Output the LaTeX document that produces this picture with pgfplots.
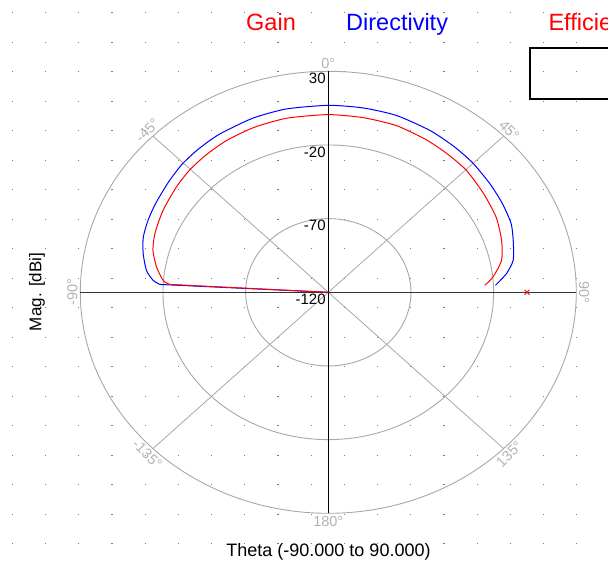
\documentclass[border=0pt]{standalone}
\usepackage{pgfplots}
\pgfplotsset{compat=1.18}
\usepackage{pgfplotstable}
\usepackage{fontspec}
\setmainfont{Liberation Sans}
\definecolor{gridgray}{RGB}{168,168,168}
\definecolor{lblgray}{RGB}{178,178,178}
\definecolor{dotgray}{RGB}{125,125,125}
\definecolor{gainred}{RGB}{255,0,0}
\definecolor{dirblue}{RGB}{0,0,255}
\pgfplotsset{table/polarxy/.style={
  x expr={(\thisrow{mag}+120)*sin(\thisrow{theta})},
  y expr={(\thisrow{mag}+120)*cos(\thisrow{theta})}}}

% theta [deg], magnitude [dBi]
\pgfplotstableread{
theta mag
-86.8 -23.9
-85.4 -19.8
-80.6 -14.7
-75.0 -10.2
-69.2 -7.8
-60.9 -5.6
-52.1 -3.6
-45.3 -2.0
-38.4 -1.0
-30.8 0.0
-21.9 0.6
-12.0 0.8
0.0 0.6
10.1 0.4
20.0 0.4
29.9 -0.7
37.9 -1.7
45.3 -2.4
54.4 -4.6
63.3 -6.4
71.4 -9.4
78.3 -13.0
84.0 -19.8
87.1 -25.2
}\gaintable
\pgfplotstableread{
theta mag
-90.0 -120
-86.8 -23.9
}\gaintail

\pgfplotstableread{
theta mag
-87.0 -18.0
-85.6 -13.7
-82.3 -9.0
-76.8 -5.0
-71.5 -2.0
-65.8 -0.5
-59.9 0.6
-52.4 2.2
-45.5 4.0
-38.9 5.0
-31.6 5.9
-21.1 6.7
-11.5 7.0
0.0 6.9
9.5 6.9
18.9 6.9
29.2 5.9
37.4 4.8
44.7 3.9
53.0 2.4
60.3 1.3
67.2 0.0
73.0 -3.0
79.0 -6.1
83.3 -11.5
87.3 -18.8
}\dirtable
\pgfplotstableread{
theta mag
-90.0 -120
-87.0 -18.0
}\dirtail

\begin{document}
\begin{tikzpicture}
\useasboundingbox (0pt,0pt) rectangle (608pt,563pt);
\clip (0pt,0pt) rectangle (608pt,563pt);
% dotted background
\foreach \i in {0,...,17}{
  \foreach \j in {0,...,18}{
    \fill[dotgray] ({(12.3+33.2*\i-0.6)*1pt},{(563-12.7-29.5*\j-0.6)*1pt}) rectangle ++(1.2pt,1.2pt);
  }
}
\begin{axis}[
  at={(328.3pt,270.7pt)}, anchor=center,
  scale only axis, width=496pt, height=442pt,
  xmin=-150, xmax=150, ymin=-150, ymax=150,
  hide axis, clip=false,
]
% polar grid
\draw[gridgray, line width=0.9pt] (axis cs:0,0) ellipse [x radius=150, y radius=150];
\draw[gridgray, line width=0.9pt] (axis cs:0,0) ellipse [x radius=100, y radius=100];
\draw[gridgray, line width=0.9pt] (axis cs:0,0) ellipse [x radius=50, y radius=50];
\draw[gridgray, line width=0.8pt] (axis cs:-106.07,106.07) -- (axis cs:106.07,-106.07);
\draw[gridgray, line width=0.8pt] (axis cs:106.07,106.07) -- (axis cs:-106.07,-106.07);
\draw[black, line width=1pt] (axis cs:0,150) -- (axis cs:0,-150);
\draw[black!80, line width=1.1pt] (axis cs:-150,0) -- (axis cs:150,0);
% angle labels
\begin{scope}[every node/.style={text=lblgray, inner sep=0pt, outer sep=2.8pt, font=\fontsize{14.5}{15}\selectfont}]
\node[anchor=south] at (axis cs:0,150) {0°};
\node[anchor=south, rotate=-45] at (axis cs:106.07,106.07) {45°};
\node[anchor=south, rotate=-90] at (axis cs:150,0) {90°};
\node[anchor=north, rotate=45] at (axis cs:106.07,-106.07) {135°};
\node[anchor=north] at (axis cs:0,-150) {180°};
\node[anchor=north, rotate=-45] at (axis cs:-106.07,-106.07) {-135°};
\node[anchor=south, rotate=90] at (axis cs:-150,0) {-90°};
\node[anchor=south, rotate=45] at (axis cs:-106.07,106.07) {-45°};
\end{scope}
% radial tick labels
\begin{scope}[every node/.style={anchor=north east, inner sep=0pt, xshift=-2.5pt, yshift=-1.5pt, font=\fontsize{15}{15}\selectfont}]
\node at (axis cs:0,150) {30};
\node at (axis cs:0,100) {-20};
\node at (axis cs:0,50) {-70};
\node at (axis cs:0,0) {-120};
\end{scope}
% data
\addplot[dirblue, line width=1pt, smooth, tension=0.4] table[polarxy] {\dirtable};
\addplot[dirblue, line width=1pt] table[polarxy] {\dirtail};
\addplot[gainred, line width=1pt, smooth, tension=0.4] table[polarxy] {\gaintable};
\addplot[gainred, line width=1pt] table[polarxy] {\gaintail};
\addplot[gainred, only marks, mark=x, mark size=3.5pt, mark options={line width=0.9pt}] table[
  row sep=\\, polarxy] {theta mag\\ 90 0.2\\};
\end{axis}
% titles and labels
\node[anchor=base west, inner sep=0pt, text=gainred, font=\fontsize{23.5}{28}\selectfont] at (246pt,532pt) {Gain};
\node[anchor=base west, inner sep=0pt, text=dirblue, font=\fontsize{23.5}{28}\selectfont] at (346pt,532pt) {Directivity};
\node[anchor=base west, inner sep=0pt, text=gainred, font=\fontsize{23.5}{28}\selectfont] at (548.3pt,532pt) {Efficiency};
\draw[black, line width=2pt] (530pt,514.5pt) rectangle (660pt,463.7pt);
\node[anchor=base, inner sep=0pt, font=\fontsize{18}{20}\selectfont] at (328.5pt,6.3pt) {Theta (-90.000 to 90.000)};
\node[rotate=90, inner sep=0pt, font=\fontsize{17}{20}\selectfont] at (37pt,271pt) {Mag. [dBi]};
\end{tikzpicture}
\end{document}
